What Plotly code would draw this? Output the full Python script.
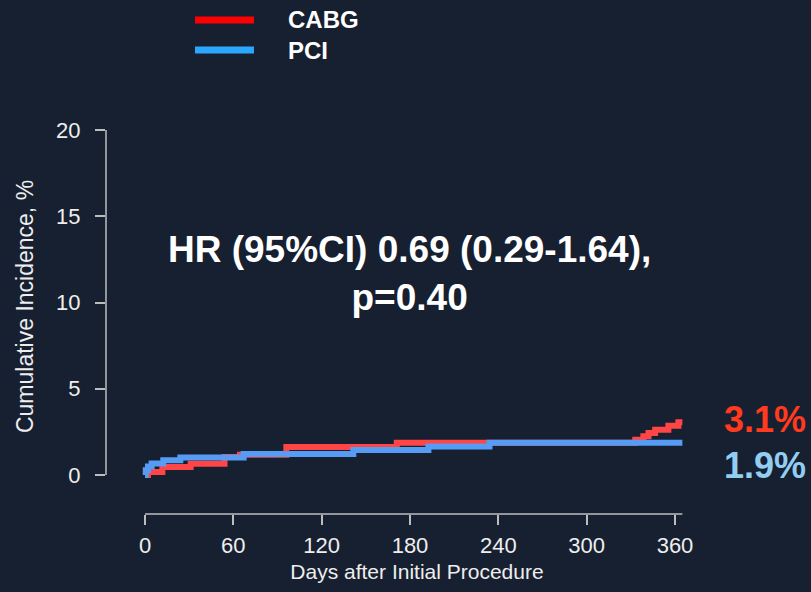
import plotly.graph_objects as go

# ---- data ----
cabg_days = [0, 2, 11.8, 31, 54, 64.5, 96, 171, 333, 338.5, 342, 346.5, 355.5, 362.3, 365]
cabg_inc = [0, 0.17, 0.47, 0.65, 1.05, 1.18, 1.62, 1.87, 2.05, 2.24, 2.43, 2.63, 2.86, 3.06, 3.06]
pci_days = [0, 0.5, 2, 4.5, 12.4, 24, 67, 141.5, 192.5, 234, 365]
pci_inc = [0, 0.27, 0.5, 0.67, 0.85, 1.02, 1.22, 1.45, 1.65, 1.87, 1.87]

x_ticks = [0, 60, 120, 180, 240, 300, 360]
y_ticks = [0, 5, 10, 15, 20]
series_names = ["CABG", "PCI"]
final_labels = ["3.1%", "1.9%"]
hr_text = "HR (95%CI) 0.69 (0.29-1.64),<br>p=0.40"
x_title = "Days after Initial Procedure"
y_title = "Cumulative Incidence, %"

BG = "#172030"
AXC = "#BDBDBD"
TXT = "#EEEEEE"
FONT = "Liberation Sans, Arial, sans-serif"
line_cols = ["#FF4545", "#569CF5"]
legend_cols = ["#FF0000", "#2AA8FF"]
label_cols = ["#FF3A1E", "#92CEF2"]

fig = go.Figure()
fig.add_trace(go.Scatter(x=cabg_days, y=cabg_inc, mode="lines", line=dict(shape="hv", color=line_cols[0], width=6),
                         name=series_names[0], showlegend=False))
fig.add_trace(go.Scatter(x=pci_days, y=pci_inc, mode="lines", line=dict(shape="hv", color=line_cols[1], width=6),
                         name=series_names[1], showlegend=False))

shapes = [
    # y axis line
    dict(type="line", xref="paper", yref="y", x0=0, x1=0, y0=y_ticks[0], y1=y_ticks[-1],
         line=dict(color=AXC, width=1.5)),
    # x axis line
    dict(type="line", xref="x", yref="paper", x0=0, x1=365, y0=0, y1=0,
         line=dict(color=AXC, width=1.5)),
]
annotations = [
    dict(text=hr_text, xref="paper", yref="paper", x=0.4887, y=0.6263, xanchor="center", yanchor="middle",
         showarrow=False, font=dict(family=FONT, size=37, color="white", weight="bold")),
    dict(text=y_title, xref="paper", yref="paper", x=-0.1302, y=0.539, xanchor="center", yanchor="middle",
         textangle=-90, showarrow=False, font=dict(family=FONT, size=23, color=TXT)),
]
# manual legend
leg_y = [1.2865, 1.2083]
for i in range(2):
    shapes.append(dict(type="line", xref="paper", yref="paper", x0=0.1431, x1=0.2379, y0=leg_y[i], y1=leg_y[i],
                       line=dict(color=legend_cols[i], width=7)))
    annotations.append(dict(text=series_names[i], xref="paper", yref="paper", x=0.2894, y=leg_y[i],
                            xanchor="left", yanchor="middle", showarrow=False,
                            font=dict(family=FONT, size=24, color="white", weight="bold")))
# final percentages
lab_y = [0.2448, 0.1276]
for i in range(2):
    annotations.append(dict(text=final_labels[i], xref="paper", yref="paper", x=1.1286, y=lab_y[i],
                            xanchor="right", yanchor="middle", showarrow=False,
                            font=dict(family=FONT, size=36, color=label_cols[i], weight="bold")))

fig.update_layout(
    width=811, height=592,
    margin=dict(l=106, r=83, t=130, b=78, autoexpand=False),
    paper_bgcolor=BG, plot_bgcolor=BG,
    font=dict(family=FONT, color=TXT),
    shapes=shapes, annotations=annotations,
    xaxis=dict(range=[-26.5, 396], tickvals=x_ticks, ticktext=[str(v) for v in x_ticks],
               showgrid=False, zeroline=False, showline=False,
               ticks="outside", ticklen=10, tickwidth=1.5, tickcolor=AXC,
               tickfont=dict(size=22, color=TXT), ticklabelstandoff=2,
               title=dict(text=x_title, font=dict(size=21, color=TXT), standoff=6)),
    yaxis=dict(range=[-2.26, 20], tickvals=y_ticks, ticktext=[str(v) for v in y_ticks],
               showgrid=False, zeroline=False, showline=False,
               ticks="outside", ticklen=10, tickwidth=1.5, tickcolor=AXC,
               tickfont=dict(size=22, color=TXT), ticklabelstandoff=10),
)

fig.write_html("out.html")
